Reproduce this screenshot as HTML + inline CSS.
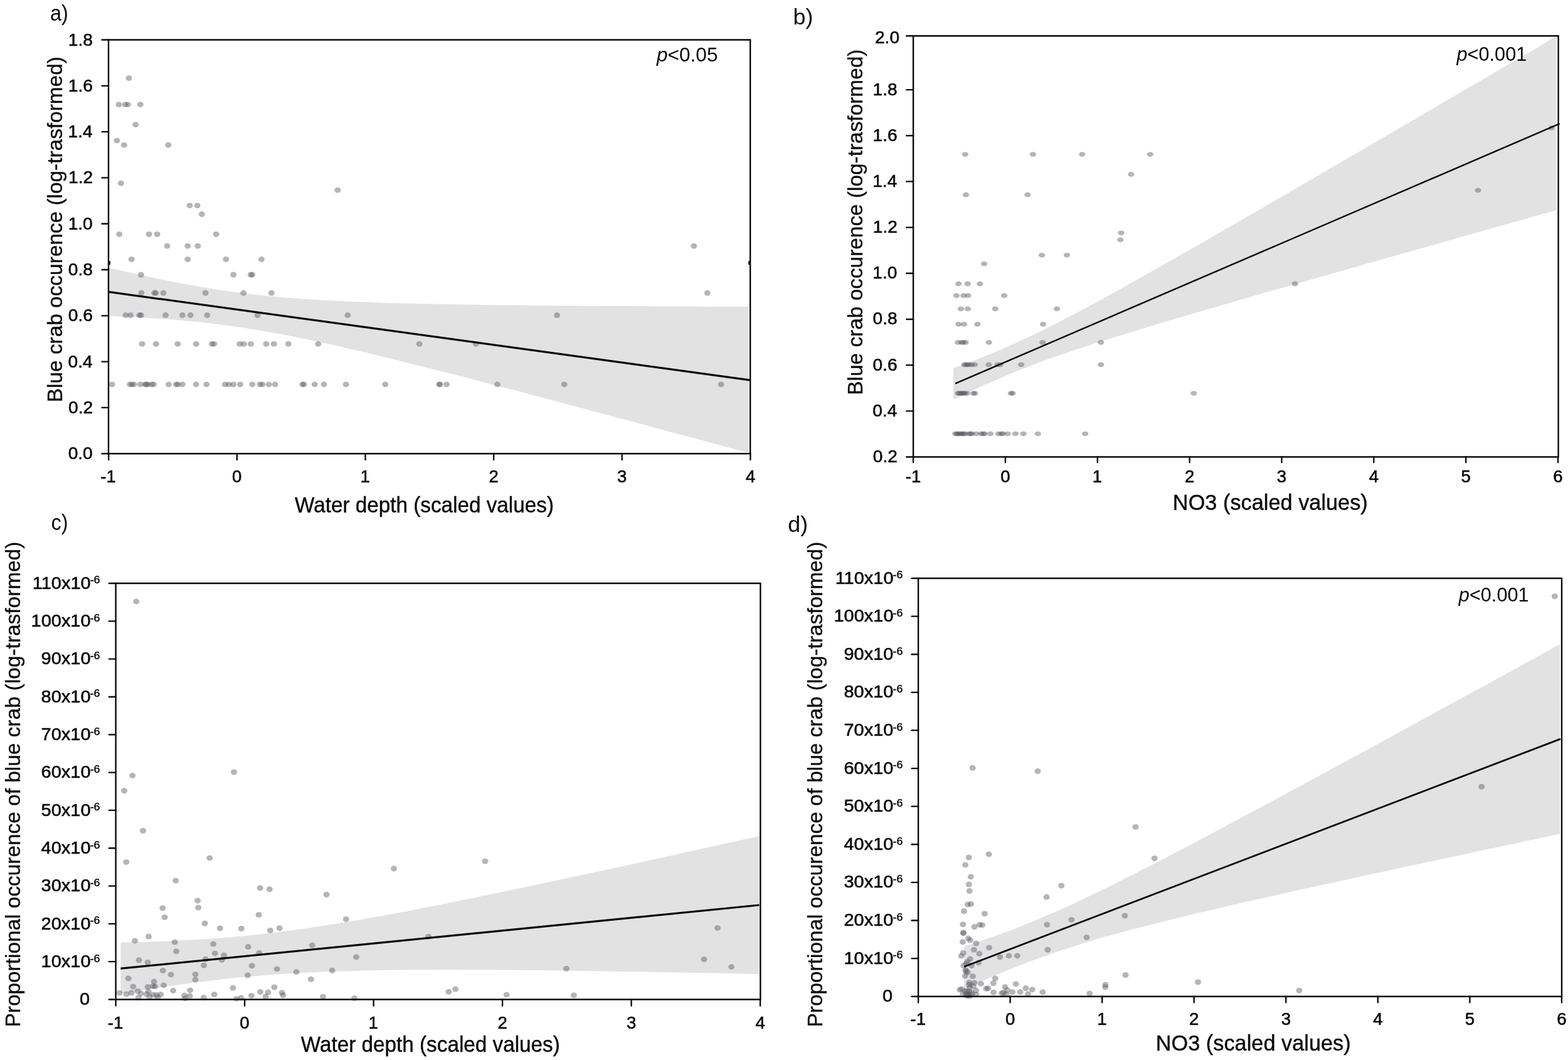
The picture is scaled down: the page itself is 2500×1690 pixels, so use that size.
<!DOCTYPE html>
<html lang="en"><head><meta charset="utf-8"><title>Blue crab occurrence vs water depth and NO3</title>
<style>html,body{margin:0;padding:0;background:#fff}body{width:2500px;height:1690px;overflow:hidden}svg{display:block}text{font-family:'Liberation Sans', sans-serif;fill:#0a0a0a}</style>
</head><body>
<svg width="2500" height="1690" viewBox="0 0 2500 1690" role="img" aria-label="Blue crab occurrence versus water depth and NO3">
<rect width="2500" height="1690" fill="#fff"/>
<g>
<path d="M173.4 426.81 C178.26 427.94 192.84 431.34 202.56 433.54 C212.28 435.74 222 437.91 231.72 440.01 C241.44 442.11 251.16 444.17 260.88 446.15 C270.6 448.13 280.32 450.06 290.04 451.9 C299.76 453.74 309.48 455.51 319.2 457.18 C328.92 458.85 338.64 460.44 348.36 461.92 C358.08 463.41 367.8 464.8 377.52 466.09 C387.24 467.38 396.96 468.57 406.68 469.68 C416.4 470.78 426.12 471.78 435.84 472.7 C445.56 473.62 455.28 474.45 465 475.22 C474.72 475.99 484.44 476.67 494.16 477.3 C503.88 477.94 513.6 478.5 523.32 479.03 C533.04 479.55 542.76 480.02 552.48 480.45 C562.2 480.89 571.92 481.28 581.64 481.64 C591.36 482.01 601.08 482.33 610.8 482.64 C620.52 482.95 630.24 483.22 639.96 483.49 C649.68 483.75 659.4 483.98 669.12 484.21 C678.84 484.43 688.56 484.63 698.28 484.83 C708 485.02 717.72 485.2 727.44 485.36 C737.16 485.53 746.88 485.68 756.6 485.83 C766.32 485.98 776.04 486.11 785.76 486.24 C795.48 486.37 805.2 486.49 814.92 486.61 C824.64 486.72 834.36 486.83 844.08 486.93 C853.8 487.03 863.52 487.13 873.24 487.22 C882.96 487.31 892.68 487.4 902.4 487.48 C912.12 487.57 921.84 487.64 931.56 487.72 C941.28 487.79 951 487.86 960.72 487.93 C970.44 488 980.16 488.06 989.88 488.12 C999.6 488.19 1009.32 488.25 1019.04 488.3 C1028.76 488.36 1038.48 488.41 1048.2 488.46 C1057.92 488.52 1067.64 488.57 1077.36 488.61 C1087.08 488.66 1096.8 488.71 1106.52 488.75 C1116.24 488.79 1125.96 488.84 1135.68 488.88 C1145.4 488.92 1155.12 488.96 1164.84 489 C1174.56 489.03 1189.14 489.09 1194 489.1 L1194 722.25 C1189.14 720.94 1174.56 716.99 1164.84 714.36 C1155.12 711.73 1145.4 709.11 1135.68 706.48 C1125.96 703.86 1116.24 701.23 1106.52 698.61 C1096.8 695.99 1087.08 693.37 1077.36 690.75 C1067.64 688.13 1057.92 685.51 1048.2 682.9 C1038.48 680.28 1028.76 677.67 1019.04 675.06 C1009.32 672.45 999.6 669.85 989.88 667.24 C980.16 664.64 970.44 662.03 960.72 659.44 C951 656.84 941.28 654.24 931.56 651.65 C921.84 649.06 912.12 646.47 902.4 643.89 C892.68 641.3 882.96 638.72 873.24 636.15 C863.52 633.57 853.8 631 844.08 628.44 C834.36 625.88 824.64 623.32 814.92 620.77 C805.2 618.21 795.48 615.67 785.76 613.13 C776.04 610.59 766.32 608.06 756.6 605.54 C746.88 603.02 737.16 600.51 727.44 598.01 C717.72 595.51 708 593.02 698.28 590.55 C688.56 588.07 678.84 585.61 669.12 583.17 C659.4 580.72 649.68 578.29 639.96 575.88 C630.24 573.48 620.52 571.08 610.8 568.72 C601.08 566.36 591.36 564.02 581.64 561.71 C571.92 559.41 562.2 557.13 552.48 554.89 C542.76 552.66 533.04 550.45 523.32 548.3 C513.6 546.15 503.88 544.04 494.16 542 C484.44 539.96 474.72 537.96 465 536.05 C455.28 534.14 445.56 532.29 435.84 530.53 C426.12 528.77 416.4 527.08 406.68 525.49 C396.96 523.91 387.24 522.41 377.52 521.01 C367.8 519.61 358.08 518.31 348.36 517.1 C338.64 515.89 328.92 514.78 319.2 513.76 C309.48 512.73 299.76 511.81 290.04 510.95 C280.32 510.09 270.6 509.32 260.88 508.61 C251.16 507.9 241.44 507.26 231.72 506.67 C222 506.08 212.28 505.55 202.56 505.06 C192.84 504.56 178.26 503.94 173.4 503.71 Z" fill="#e3e2e3"/>
<g fill="rgba(90,88,97,0.45)">
<ellipse cx="205.6" cy="124.53" rx="5" ry="4.45"/>
<ellipse cx="189.5" cy="166.66" rx="5" ry="4.45"/>
<ellipse cx="199.6" cy="166.66" rx="5" ry="4.45"/>
<ellipse cx="203.9" cy="166.66" rx="5" ry="4.45"/>
<ellipse cx="223.8" cy="166.66" rx="5" ry="4.45"/>
<ellipse cx="216.2" cy="198.61" rx="5" ry="4.45"/>
<ellipse cx="186.4" cy="224.13" rx="5" ry="4.45"/>
<ellipse cx="197.8" cy="231.2" rx="5" ry="4.45"/>
<ellipse cx="268.3" cy="231.2" rx="5" ry="4.45"/>
<ellipse cx="192.9" cy="292.16" rx="5" ry="4.45"/>
<ellipse cx="538.4" cy="303.14" rx="5" ry="4.45"/>
<ellipse cx="302.5" cy="327.68" rx="5" ry="4.45"/>
<ellipse cx="314.6" cy="327.68" rx="5" ry="4.45"/>
<ellipse cx="321.8" cy="341.53" rx="5" ry="4.45"/>
<ellipse cx="190.2" cy="373.47" rx="5" ry="4.45"/>
<ellipse cx="237.6" cy="373.47" rx="5" ry="4.45"/>
<ellipse cx="250.6" cy="373.47" rx="5" ry="4.45"/>
<ellipse cx="344.6" cy="373.47" rx="5" ry="4.45"/>
<ellipse cx="266.5" cy="392.22" rx="5" ry="4.45"/>
<ellipse cx="299.2" cy="392.22" rx="5" ry="4.45"/>
<ellipse cx="315.3" cy="392.22" rx="5" ry="4.45"/>
<ellipse cx="1106.3" cy="392.22" rx="5" ry="4.45"/>
<ellipse cx="209.7" cy="413.47" rx="5" ry="4.45"/>
<ellipse cx="299.2" cy="413.47" rx="5" ry="4.45"/>
<ellipse cx="360.3" cy="413.47" rx="5" ry="4.45"/>
<ellipse cx="416.9" cy="413.47" rx="5" ry="4.45"/>
<ellipse cx="224.9" cy="438.01" rx="5" ry="4.45"/>
<ellipse cx="372.1" cy="438.01" rx="5" ry="4.45"/>
<ellipse cx="399.9" cy="438.01" rx="5" ry="4.45"/>
<ellipse cx="402.1" cy="438.01" rx="5" ry="4.45"/>
<ellipse cx="225.3" cy="467.03" rx="5" ry="4.45"/>
<ellipse cx="246.1" cy="467.03" rx="5" ry="4.45"/>
<ellipse cx="248.4" cy="467.03" rx="5" ry="4.45"/>
<ellipse cx="260.5" cy="467.03" rx="5" ry="4.45"/>
<ellipse cx="327.6" cy="467.03" rx="5" ry="4.45"/>
<ellipse cx="388.2" cy="467.03" rx="5" ry="4.45"/>
<ellipse cx="432.8" cy="467.03" rx="5" ry="4.45"/>
<ellipse cx="1127.8" cy="467.03" rx="5" ry="4.45"/>
<ellipse cx="200.3" cy="502.55" rx="5" ry="4.45"/>
<ellipse cx="208.1" cy="502.55" rx="5" ry="4.45"/>
<ellipse cx="222.2" cy="502.55" rx="5" ry="4.45"/>
<ellipse cx="224.9" cy="502.55" rx="5" ry="4.45"/>
<ellipse cx="264" cy="502.55" rx="5" ry="4.45"/>
<ellipse cx="290.9" cy="502.55" rx="5" ry="4.45"/>
<ellipse cx="303.7" cy="502.55" rx="5" ry="4.45"/>
<ellipse cx="330.3" cy="502.55" rx="5" ry="4.45"/>
<ellipse cx="410.6" cy="502.55" rx="5" ry="4.45"/>
<ellipse cx="554.3" cy="502.55" rx="5" ry="4.45"/>
<ellipse cx="888.1" cy="502.55" rx="5" ry="4.45"/>
<ellipse cx="226.5" cy="548.34" rx="5" ry="4.45"/>
<ellipse cx="248.8" cy="548.34" rx="5" ry="4.45"/>
<ellipse cx="283.3" cy="548.34" rx="5" ry="4.45"/>
<ellipse cx="312.8" cy="548.34" rx="5" ry="4.45"/>
<ellipse cx="337.9" cy="548.34" rx="5" ry="4.45"/>
<ellipse cx="341.3" cy="548.34" rx="5" ry="4.45"/>
<ellipse cx="382.2" cy="548.34" rx="5" ry="4.45"/>
<ellipse cx="388.9" cy="548.34" rx="5" ry="4.45"/>
<ellipse cx="399.9" cy="548.34" rx="5" ry="4.45"/>
<ellipse cx="424.5" cy="548.34" rx="5" ry="4.45"/>
<ellipse cx="436.8" cy="548.34" rx="5" ry="4.45"/>
<ellipse cx="459.6" cy="548.34" rx="5" ry="4.45"/>
<ellipse cx="507.3" cy="548.34" rx="5" ry="4.45"/>
<ellipse cx="668.6" cy="548.34" rx="5" ry="4.45"/>
<ellipse cx="758.8" cy="548.34" rx="5" ry="4.45"/>
<ellipse cx="178.6" cy="612.87" rx="5" ry="4.45"/>
<ellipse cx="207" cy="612.87" rx="5" ry="4.45"/>
<ellipse cx="210.3" cy="612.87" rx="5" ry="4.45"/>
<ellipse cx="213.7" cy="612.87" rx="5" ry="4.45"/>
<ellipse cx="223.8" cy="612.87" rx="5" ry="4.45"/>
<ellipse cx="231.2" cy="612.87" rx="5" ry="4.45"/>
<ellipse cx="233.4" cy="612.87" rx="5" ry="4.45"/>
<ellipse cx="235.6" cy="612.87" rx="5" ry="4.45"/>
<ellipse cx="241.7" cy="612.87" rx="5" ry="4.45"/>
<ellipse cx="245" cy="612.87" rx="5" ry="4.45"/>
<ellipse cx="269" cy="612.87" rx="5" ry="4.45"/>
<ellipse cx="280.8" cy="612.87" rx="5" ry="4.45"/>
<ellipse cx="283.5" cy="612.87" rx="5" ry="4.45"/>
<ellipse cx="290.9" cy="612.87" rx="5" ry="4.45"/>
<ellipse cx="312.6" cy="612.87" rx="5" ry="4.45"/>
<ellipse cx="329.2" cy="612.87" rx="5" ry="4.45"/>
<ellipse cx="358.7" cy="612.87" rx="5" ry="4.45"/>
<ellipse cx="364.7" cy="612.87" rx="5" ry="4.45"/>
<ellipse cx="372.1" cy="612.87" rx="5" ry="4.45"/>
<ellipse cx="382.9" cy="612.87" rx="5" ry="4.45"/>
<ellipse cx="402.3" cy="612.87" rx="5" ry="4.45"/>
<ellipse cx="414.4" cy="612.87" rx="5" ry="4.45"/>
<ellipse cx="418.4" cy="612.87" rx="5" ry="4.45"/>
<ellipse cx="428.7" cy="612.87" rx="5" ry="4.45"/>
<ellipse cx="438.6" cy="612.87" rx="5" ry="4.45"/>
<ellipse cx="482.2" cy="612.87" rx="5" ry="4.45"/>
<ellipse cx="484.5" cy="612.87" rx="5" ry="4.45"/>
<ellipse cx="501.7" cy="612.87" rx="5" ry="4.45"/>
<ellipse cx="516.5" cy="612.87" rx="5" ry="4.45"/>
<ellipse cx="551.6" cy="612.87" rx="5" ry="4.45"/>
<ellipse cx="614.2" cy="612.87" rx="5" ry="4.45"/>
<ellipse cx="700.4" cy="612.87" rx="5" ry="4.45"/>
<ellipse cx="701.6" cy="612.87" rx="5" ry="4.45"/>
<ellipse cx="712" cy="612.87" rx="5" ry="4.45"/>
<ellipse cx="793" cy="612.87" rx="5" ry="4.45"/>
<ellipse cx="899.7" cy="612.87" rx="5" ry="4.45"/>
<ellipse cx="1149.7" cy="612.87" rx="5" ry="4.45"/>
</g>
<line x1="173.4" y1="465.4" x2="1196.4" y2="606.1" stroke="#0a0a0a" stroke-width="3.2" stroke-linecap="butt"/>
<path d="M173 63.5 H1196.2 V723.2 H173 Z" fill="none" stroke="#0a0a0a" stroke-width="2.4" stroke-linejoin="miter"/>
<line x1="162.5" y1="723.2" x2="173" y2="723.2" stroke="#0a0a0a" stroke-width="2.35" stroke-linecap="round"/>
<text transform="translate(108.64 732.22) scale(1.02 1)" font-size="27.6" stroke="#0a0a0a" stroke-width="0.6" stroke-linejoin="round">0.0</text>
<line x1="162.5" y1="649.9" x2="173" y2="649.9" stroke="#0a0a0a" stroke-width="2.35" stroke-linecap="round"/>
<text transform="translate(109.07 658.92) scale(1.02 1)" font-size="27.6" stroke="#0a0a0a" stroke-width="0.6" stroke-linejoin="round">0.2</text>
<line x1="162.5" y1="576.6" x2="173" y2="576.6" stroke="#0a0a0a" stroke-width="2.35" stroke-linecap="round"/>
<text transform="translate(108.5 585.62) scale(1.02 1)" font-size="27.6" stroke="#0a0a0a" stroke-width="0.6" stroke-linejoin="round">0.4</text>
<line x1="162.5" y1="503.3" x2="173" y2="503.3" stroke="#0a0a0a" stroke-width="2.35" stroke-linecap="round"/>
<text transform="translate(108.78 512.32) scale(1.02 1)" font-size="27.6" stroke="#0a0a0a" stroke-width="0.6" stroke-linejoin="round">0.6</text>
<line x1="162.5" y1="430" x2="173" y2="430" stroke="#0a0a0a" stroke-width="2.35" stroke-linecap="round"/>
<text transform="translate(108.78 439.02) scale(1.02 1)" font-size="27.6" stroke="#0a0a0a" stroke-width="0.6" stroke-linejoin="round">0.8</text>
<line x1="162.5" y1="356.7" x2="173" y2="356.7" stroke="#0a0a0a" stroke-width="2.35" stroke-linecap="round"/>
<text transform="translate(108.64 365.72) scale(1.02 1)" font-size="27.6" stroke="#0a0a0a" stroke-width="0.6" stroke-linejoin="round">1.0</text>
<line x1="162.5" y1="283.4" x2="173" y2="283.4" stroke="#0a0a0a" stroke-width="2.35" stroke-linecap="round"/>
<text transform="translate(109.07 292.42) scale(1.02 1)" font-size="27.6" stroke="#0a0a0a" stroke-width="0.6" stroke-linejoin="round">1.2</text>
<line x1="162.5" y1="210.1" x2="173" y2="210.1" stroke="#0a0a0a" stroke-width="2.35" stroke-linecap="round"/>
<text transform="translate(108.5 219.12) scale(1.02 1)" font-size="27.6" stroke="#0a0a0a" stroke-width="0.6" stroke-linejoin="round">1.4</text>
<line x1="162.5" y1="136.8" x2="173" y2="136.8" stroke="#0a0a0a" stroke-width="2.35" stroke-linecap="round"/>
<text transform="translate(108.78 145.82) scale(1.02 1)" font-size="27.6" stroke="#0a0a0a" stroke-width="0.6" stroke-linejoin="round">1.6</text>
<line x1="162.5" y1="63.5" x2="173" y2="63.5" stroke="#0a0a0a" stroke-width="2.35" stroke-linecap="round"/>
<text transform="translate(108.78 72.52) scale(1.02 1)" font-size="27.6" stroke="#0a0a0a" stroke-width="0.6" stroke-linejoin="round">1.8</text>
<line x1="173.2" y1="723.2" x2="173.2" y2="733" stroke="#0a0a0a" stroke-width="2.35" stroke-linecap="round"/>
<text transform="translate(160.32 768.6) scale(1 1)" font-size="27.6" stroke="#0a0a0a" stroke-width="0.6" stroke-linejoin="round">-1</text>
<line x1="377.84" y1="723.2" x2="377.84" y2="733" stroke="#0a0a0a" stroke-width="2.35" stroke-linecap="round"/>
<text transform="translate(370.11 768.6) scale(1 1)" font-size="27.6" stroke="#0a0a0a" stroke-width="0.6" stroke-linejoin="round">0</text>
<line x1="582.48" y1="723.2" x2="582.48" y2="733" stroke="#0a0a0a" stroke-width="2.35" stroke-linecap="round"/>
<text transform="translate(574.41 768.6) scale(1 1)" font-size="27.6" stroke="#0a0a0a" stroke-width="0.6" stroke-linejoin="round">1</text>
<line x1="787.12" y1="723.2" x2="787.12" y2="733" stroke="#0a0a0a" stroke-width="2.35" stroke-linecap="round"/>
<text transform="translate(779.46 768.6) scale(1 1)" font-size="27.6" stroke="#0a0a0a" stroke-width="0.6" stroke-linejoin="round">2</text>
<line x1="991.76" y1="723.2" x2="991.76" y2="733" stroke="#0a0a0a" stroke-width="2.35" stroke-linecap="round"/>
<text transform="translate(984.1 768.6) scale(1 1)" font-size="27.6" stroke="#0a0a0a" stroke-width="0.6" stroke-linejoin="round">3</text>
<line x1="1196.4" y1="723.2" x2="1196.4" y2="733" stroke="#0a0a0a" stroke-width="2.35" stroke-linecap="round"/>
<text transform="translate(1188.88 768.6) scale(1 1)" font-size="27.6" stroke="#0a0a0a" stroke-width="0.6" stroke-linejoin="round">4</text>
<text transform="translate(470.03 817) scale(0.94 1)" font-size="35.4" stroke="#0a0a0a" stroke-width="0.45" stroke-linejoin="round">Water depth (scaled values)</text>
<text transform="translate(99.3 638.5) rotate(-90) scale(1 1.01) translate(-2.67 0)" font-size="33.4" stroke="#0a0a0a" stroke-width="0.35" stroke-linejoin="round">Blue crab occurence (log-trasformed)</text>
<text transform="translate(1046.94 97.6) scale(1.03 1)" font-size="30.7"><tspan font-style="italic">p</tspan>&lt;0.05</text>
<text transform="translate(80 32.7) scale(0.94 1)" font-size="34.5">a)</text>
<rect x="173" y="416.1" width="2.9" height="6.2" rx="1.2" fill="#0a0a0a"/>
<rect x="1193.2" y="416.1" width="2.9" height="6.2" rx="1.2" fill="#0a0a0a"/>
</g>
<g>
<path d="M1520.1 586.79 C1524.68 585.11 1538.42 580.18 1547.57 576.71 C1556.73 573.24 1565.89 569.66 1575.05 565.94 C1584.21 562.22 1593.36 558.38 1602.52 554.39 C1611.68 550.4 1620.84 546.27 1630 542.03 C1639.16 537.78 1648.31 533.39 1657.47 528.9 C1666.63 524.42 1675.79 519.81 1684.95 515.14 C1694.1 510.46 1703.26 505.68 1712.42 500.85 C1721.58 496.02 1730.74 491.11 1739.89 486.17 C1749.05 481.22 1758.21 476.21 1767.37 471.18 C1776.53 466.15 1785.68 461.07 1794.84 455.97 C1804 450.87 1813.16 445.73 1822.32 440.58 C1831.48 435.43 1840.63 430.25 1849.79 425.07 C1858.95 419.88 1868.11 414.66 1877.27 409.44 C1886.42 404.22 1895.58 398.99 1904.74 393.74 C1913.9 388.5 1923.06 383.24 1932.21 377.98 C1941.37 372.71 1950.53 367.44 1959.69 362.16 C1968.85 356.88 1978 351.59 1987.16 346.3 C1996.32 341 2005.48 335.7 2014.64 330.4 C2023.8 325.1 2032.95 319.79 2042.11 314.47 C2051.27 309.16 2060.43 303.84 2069.59 298.52 C2078.74 293.2 2087.9 287.88 2097.06 282.55 C2106.22 277.22 2115.38 271.89 2124.53 266.56 C2133.69 261.23 2142.85 255.89 2152.01 250.56 C2161.17 245.22 2170.32 239.88 2179.48 234.54 C2188.64 229.2 2197.8 223.85 2206.96 218.51 C2216.12 213.16 2225.27 207.81 2234.43 202.47 C2243.59 197.12 2252.75 191.77 2261.91 186.42 C2271.06 181.06 2280.22 175.71 2289.38 170.36 C2298.54 165 2307.7 159.65 2316.85 154.29 C2326.01 148.94 2335.17 143.58 2344.33 138.22 C2353.49 132.86 2362.64 127.5 2371.8 122.15 C2380.96 116.79 2390.12 111.42 2399.28 106.06 C2408.44 100.7 2417.59 95.34 2426.75 89.98 C2435.91 84.61 2445.07 79.25 2454.23 73.88 C2463.38 68.52 2477.12 60.47 2481.7 57.79 L2481.7 335.08 C2477.12 336.37 2463.38 340.23 2454.23 342.81 C2445.07 345.38 2435.91 347.96 2426.75 350.54 C2417.59 353.11 2408.44 355.69 2399.28 358.27 C2390.12 360.85 2380.96 363.43 2371.8 366.01 C2362.64 368.59 2353.49 371.17 2344.33 373.75 C2335.17 376.33 2326.01 378.91 2316.85 381.49 C2307.7 384.08 2298.54 386.66 2289.38 389.25 C2280.22 391.83 2271.06 394.42 2261.91 397.01 C2252.75 399.6 2243.59 402.18 2234.43 404.77 C2225.27 407.37 2216.12 409.96 2206.96 412.55 C2197.8 415.14 2188.64 417.74 2179.48 420.34 C2170.32 422.93 2161.17 425.53 2152.01 428.13 C2142.85 430.73 2133.69 433.34 2124.53 435.94 C2115.38 438.55 2106.22 441.16 2097.06 443.77 C2087.9 446.38 2078.74 448.99 2069.59 451.61 C2060.43 454.22 2051.27 456.84 2042.11 459.47 C2032.95 462.09 2023.8 464.72 2014.64 467.35 C2005.48 469.98 1996.32 472.62 1987.16 475.26 C1978 477.9 1968.85 480.55 1959.69 483.21 C1950.53 485.86 1941.37 488.52 1932.21 491.19 C1923.06 493.86 1913.9 496.53 1904.74 499.22 C1895.58 501.91 1886.42 504.6 1877.27 507.31 C1868.11 510.02 1858.95 512.74 1849.79 515.48 C1840.63 518.22 1831.48 520.97 1822.32 523.74 C1813.16 526.52 1804 529.31 1794.84 532.13 C1785.68 534.95 1776.53 537.79 1767.37 540.67 C1758.21 543.56 1749.05 546.46 1739.89 549.43 C1730.74 552.39 1721.58 555.39 1712.42 558.46 C1703.26 561.53 1694.1 564.65 1684.95 567.86 C1675.79 571.07 1666.63 574.34 1657.47 577.74 C1648.31 581.13 1639.16 584.6 1630 588.22 C1620.84 591.83 1611.68 595.55 1602.52 599.41 C1593.36 603.26 1584.21 607.25 1575.05 611.37 C1565.89 615.48 1556.73 619.73 1547.57 624.08 C1538.42 628.43 1524.68 635.24 1520.1 637.47 Z" fill="#e3e2e3"/>
<g fill="rgba(90,88,97,0.45)">
<ellipse cx="2473.7" cy="203.99" rx="5.1" ry="3.9"/>
<ellipse cx="1538.9" cy="246.06" rx="5.1" ry="3.9"/>
<ellipse cx="1646.8" cy="246.06" rx="5.1" ry="3.9"/>
<ellipse cx="1725.3" cy="246.06" rx="5.1" ry="3.9"/>
<ellipse cx="1833.8" cy="246.06" rx="5.1" ry="3.9"/>
<ellipse cx="1803.4" cy="277.94" rx="5.1" ry="3.9"/>
<ellipse cx="2356.5" cy="303.42" rx="5.1" ry="3.9"/>
<ellipse cx="1540" cy="310.49" rx="5.1" ry="3.9"/>
<ellipse cx="1638.3" cy="310.49" rx="5.1" ry="3.9"/>
<ellipse cx="1787.5" cy="371.35" rx="5.1" ry="3.9"/>
<ellipse cx="1786.3" cy="382.31" rx="5.1" ry="3.9"/>
<ellipse cx="1661.1" cy="406.81" rx="5.1" ry="3.9"/>
<ellipse cx="1701.1" cy="406.81" rx="5.1" ry="3.9"/>
<ellipse cx="1569.1" cy="420.63" rx="5.1" ry="3.9"/>
<ellipse cx="1528.2" cy="452.52" rx="5.1" ry="3.9"/>
<ellipse cx="1542.7" cy="452.52" rx="5.1" ry="3.9"/>
<ellipse cx="1562.4" cy="452.52" rx="5.1" ry="3.9"/>
<ellipse cx="2064.7" cy="452.52" rx="5.1" ry="3.9"/>
<ellipse cx="1525" cy="471.24" rx="5.1" ry="3.9"/>
<ellipse cx="1536.2" cy="471.24" rx="5.1" ry="3.9"/>
<ellipse cx="1543.4" cy="471.24" rx="5.1" ry="3.9"/>
<ellipse cx="1601.1" cy="471.24" rx="5.1" ry="3.9"/>
<ellipse cx="1532" cy="492.46" rx="5.1" ry="3.9"/>
<ellipse cx="1542.9" cy="492.46" rx="5.1" ry="3.9"/>
<ellipse cx="1586.8" cy="492.46" rx="5.1" ry="3.9"/>
<ellipse cx="1685" cy="492.46" rx="5.1" ry="3.9"/>
<ellipse cx="1528.4" cy="516.95" rx="5.1" ry="3.9"/>
<ellipse cx="1537.1" cy="516.95" rx="5.1" ry="3.9"/>
<ellipse cx="1558.4" cy="516.95" rx="5.1" ry="3.9"/>
<ellipse cx="1663.1" cy="516.95" rx="5.1" ry="3.9"/>
<ellipse cx="1527.3" cy="545.93" rx="5.1" ry="3.9"/>
<ellipse cx="1532.9" cy="545.93" rx="5.1" ry="3.9"/>
<ellipse cx="1535.8" cy="545.93" rx="5.1" ry="3.9"/>
<ellipse cx="1539.6" cy="545.93" rx="5.1" ry="3.9"/>
<ellipse cx="1576.7" cy="545.93" rx="5.1" ry="3.9"/>
<ellipse cx="1662.2" cy="545.93" rx="5.1" ry="3.9"/>
<ellipse cx="1755.3" cy="545.93" rx="5.1" ry="3.9"/>
<ellipse cx="1537.5" cy="581.39" rx="5.1" ry="3.9"/>
<ellipse cx="1540" cy="581.39" rx="5.1" ry="3.9"/>
<ellipse cx="1542.5" cy="581.39" rx="5.1" ry="3.9"/>
<ellipse cx="1545" cy="581.39" rx="5.1" ry="3.9"/>
<ellipse cx="1549" cy="581.39" rx="5.1" ry="3.9"/>
<ellipse cx="1554.1" cy="581.39" rx="5.1" ry="3.9"/>
<ellipse cx="1576.5" cy="581.39" rx="5.1" ry="3.9"/>
<ellipse cx="1590.4" cy="581.39" rx="5.1" ry="3.9"/>
<ellipse cx="1594.8" cy="581.39" rx="5.1" ry="3.9"/>
<ellipse cx="1628.2" cy="581.39" rx="5.1" ry="3.9"/>
<ellipse cx="1755.3" cy="581.39" rx="5.1" ry="3.9"/>
<ellipse cx="1527.3" cy="627.1" rx="5.1" ry="3.9"/>
<ellipse cx="1529.5" cy="627.1" rx="5.1" ry="3.9"/>
<ellipse cx="1531.8" cy="627.1" rx="5.1" ry="3.9"/>
<ellipse cx="1534" cy="627.1" rx="5.1" ry="3.9"/>
<ellipse cx="1536.2" cy="627.1" rx="5.1" ry="3.9"/>
<ellipse cx="1538.5" cy="627.1" rx="5.1" ry="3.9"/>
<ellipse cx="1541.8" cy="627.1" rx="5.1" ry="3.9"/>
<ellipse cx="1551.9" cy="627.1" rx="5.1" ry="3.9"/>
<ellipse cx="1554.6" cy="627.1" rx="5.1" ry="3.9"/>
<ellipse cx="1611.9" cy="627.1" rx="5.1" ry="3.9"/>
<ellipse cx="1614.5" cy="627.1" rx="5.1" ry="3.9"/>
<ellipse cx="1903.2" cy="627.1" rx="5.1" ry="3.9"/>
<ellipse cx="1523.2" cy="691.53" rx="5.1" ry="3.9"/>
<ellipse cx="1525.5" cy="691.53" rx="5.1" ry="3.9"/>
<ellipse cx="1527.7" cy="691.53" rx="5.1" ry="3.9"/>
<ellipse cx="1530" cy="691.53" rx="5.1" ry="3.9"/>
<ellipse cx="1532.2" cy="691.53" rx="5.1" ry="3.9"/>
<ellipse cx="1534.4" cy="691.53" rx="5.1" ry="3.9"/>
<ellipse cx="1536.7" cy="691.53" rx="5.1" ry="3.9"/>
<ellipse cx="1538.9" cy="691.53" rx="5.1" ry="3.9"/>
<ellipse cx="1545.2" cy="691.53" rx="5.1" ry="3.9"/>
<ellipse cx="1547.4" cy="691.53" rx="5.1" ry="3.9"/>
<ellipse cx="1549.6" cy="691.53" rx="5.1" ry="3.9"/>
<ellipse cx="1556.4" cy="691.53" rx="5.1" ry="3.9"/>
<ellipse cx="1564.2" cy="691.53" rx="5.1" ry="3.9"/>
<ellipse cx="1567.5" cy="691.53" rx="5.1" ry="3.9"/>
<ellipse cx="1569.8" cy="691.53" rx="5.1" ry="3.9"/>
<ellipse cx="1579.2" cy="691.53" rx="5.1" ry="3.9"/>
<ellipse cx="1591.7" cy="691.53" rx="5.1" ry="3.9"/>
<ellipse cx="1596.6" cy="691.53" rx="5.1" ry="3.9"/>
<ellipse cx="1598.9" cy="691.53" rx="5.1" ry="3.9"/>
<ellipse cx="1606.7" cy="691.53" rx="5.1" ry="3.9"/>
<ellipse cx="1619" cy="691.53" rx="5.1" ry="3.9"/>
<ellipse cx="1631.8" cy="691.53" rx="5.1" ry="3.9"/>
<ellipse cx="1654.8" cy="691.53" rx="5.1" ry="3.9"/>
<ellipse cx="1730.2" cy="691.53" rx="5.1" ry="3.9"/>
</g>
<line x1="1523.2" y1="611.5" x2="2486.8" y2="197.2" stroke="#0a0a0a" stroke-width="2.5" stroke-linecap="butt"/>
<path d="M1456.1 57.2 H2484.6 V728.5 H1456.1 Z" fill="none" stroke="#0a0a0a" stroke-width="2.4" stroke-linejoin="miter"/>
<line x1="1445.3" y1="728.5" x2="1456.1" y2="728.5" stroke="#0a0a0a" stroke-width="2.35" stroke-linecap="round"/>
<text transform="translate(1391.77 737.02) scale(1.02 1)" font-size="27.6" stroke="#0a0a0a" stroke-width="0.6" stroke-linejoin="round">0.2</text>
<line x1="1445.3" y1="655.32" x2="1456.1" y2="655.32" stroke="#0a0a0a" stroke-width="2.35" stroke-linecap="round"/>
<text transform="translate(1391.2 663.84) scale(1.02 1)" font-size="27.6" stroke="#0a0a0a" stroke-width="0.6" stroke-linejoin="round">0.4</text>
<line x1="1445.3" y1="582.14" x2="1456.1" y2="582.14" stroke="#0a0a0a" stroke-width="2.35" stroke-linecap="round"/>
<text transform="translate(1391.48 590.66) scale(1.02 1)" font-size="27.6" stroke="#0a0a0a" stroke-width="0.6" stroke-linejoin="round">0.6</text>
<line x1="1445.3" y1="508.96" x2="1456.1" y2="508.96" stroke="#0a0a0a" stroke-width="2.35" stroke-linecap="round"/>
<text transform="translate(1391.48 517.48) scale(1.02 1)" font-size="27.6" stroke="#0a0a0a" stroke-width="0.6" stroke-linejoin="round">0.8</text>
<line x1="1445.3" y1="435.78" x2="1456.1" y2="435.78" stroke="#0a0a0a" stroke-width="2.35" stroke-linecap="round"/>
<text transform="translate(1391.34 444.3) scale(1.02 1)" font-size="27.6" stroke="#0a0a0a" stroke-width="0.6" stroke-linejoin="round">1.0</text>
<line x1="1445.3" y1="362.6" x2="1456.1" y2="362.6" stroke="#0a0a0a" stroke-width="2.35" stroke-linecap="round"/>
<text transform="translate(1391.77 371.12) scale(1.02 1)" font-size="27.6" stroke="#0a0a0a" stroke-width="0.6" stroke-linejoin="round">1.2</text>
<line x1="1445.3" y1="289.42" x2="1456.1" y2="289.42" stroke="#0a0a0a" stroke-width="2.35" stroke-linecap="round"/>
<text transform="translate(1391.2 297.94) scale(1.02 1)" font-size="27.6" stroke="#0a0a0a" stroke-width="0.6" stroke-linejoin="round">1.4</text>
<line x1="1445.3" y1="216.24" x2="1456.1" y2="216.24" stroke="#0a0a0a" stroke-width="2.35" stroke-linecap="round"/>
<text transform="translate(1391.48 224.76) scale(1.02 1)" font-size="27.6" stroke="#0a0a0a" stroke-width="0.6" stroke-linejoin="round">1.6</text>
<line x1="1445.3" y1="143.06" x2="1456.1" y2="143.06" stroke="#0a0a0a" stroke-width="2.35" stroke-linecap="round"/>
<text transform="translate(1391.48 151.58) scale(1.02 1)" font-size="27.6" stroke="#0a0a0a" stroke-width="0.6" stroke-linejoin="round">1.8</text>
<line x1="1445.3" y1="57.2" x2="1456.1" y2="57.2" stroke="#0a0a0a" stroke-width="2.35" stroke-linecap="round"/>
<text transform="translate(1394.94 69.02) scale(1.02 1)" font-size="27.6" stroke="#0a0a0a" stroke-width="0.6" stroke-linejoin="round">2.0</text>
<line x1="1456.1" y1="728.5" x2="1456.1" y2="737.3" stroke="#0a0a0a" stroke-width="2.35" stroke-linecap="round"/>
<text transform="translate(1443.82 768.9) scale(1 1)" font-size="27.6" stroke="#0a0a0a" stroke-width="0.6" stroke-linejoin="round">-1</text>
<line x1="1602.95" y1="728.5" x2="1602.95" y2="737.3" stroke="#0a0a0a" stroke-width="2.35" stroke-linecap="round"/>
<text transform="translate(1595.22 768.9) scale(1 1)" font-size="27.6" stroke="#0a0a0a" stroke-width="0.6" stroke-linejoin="round">0</text>
<line x1="1749.8" y1="728.5" x2="1749.8" y2="737.3" stroke="#0a0a0a" stroke-width="2.35" stroke-linecap="round"/>
<text transform="translate(1741.73 768.9) scale(1 1)" font-size="27.6" stroke="#0a0a0a" stroke-width="0.6" stroke-linejoin="round">1</text>
<line x1="1896.65" y1="728.5" x2="1896.65" y2="737.3" stroke="#0a0a0a" stroke-width="2.35" stroke-linecap="round"/>
<text transform="translate(1888.99 768.9) scale(1 1)" font-size="27.6" stroke="#0a0a0a" stroke-width="0.6" stroke-linejoin="round">2</text>
<line x1="2043.5" y1="728.5" x2="2043.5" y2="737.3" stroke="#0a0a0a" stroke-width="2.35" stroke-linecap="round"/>
<text transform="translate(2035.84 768.9) scale(1 1)" font-size="27.6" stroke="#0a0a0a" stroke-width="0.6" stroke-linejoin="round">3</text>
<line x1="2190.35" y1="728.5" x2="2190.35" y2="737.3" stroke="#0a0a0a" stroke-width="2.35" stroke-linecap="round"/>
<text transform="translate(2182.83 768.9) scale(1 1)" font-size="27.6" stroke="#0a0a0a" stroke-width="0.6" stroke-linejoin="round">4</text>
<line x1="2337.2" y1="728.5" x2="2337.2" y2="737.3" stroke="#0a0a0a" stroke-width="2.35" stroke-linecap="round"/>
<text transform="translate(2329.54 768.9) scale(1 1)" font-size="27.6" stroke="#0a0a0a" stroke-width="0.6" stroke-linejoin="round">5</text>
<line x1="2484.05" y1="728.5" x2="2484.05" y2="737.3" stroke="#0a0a0a" stroke-width="2.35" stroke-linecap="round"/>
<text transform="translate(2476.25 768.9) scale(1 1)" font-size="27.6" stroke="#0a0a0a" stroke-width="0.6" stroke-linejoin="round">6</text>
<text transform="translate(1869.84 812.6) scale(0.97 1)" font-size="35.4" stroke="#0a0a0a" stroke-width="0.45" stroke-linejoin="round">NO3 (scaled values)</text>
<text transform="translate(1375.4 627) rotate(-90) scale(1 1.02) translate(-2.67 0)" font-size="33.4" stroke="#0a0a0a" stroke-width="0.35" stroke-linejoin="round">Blue crab occurence (log-trasformed)</text>
<text transform="translate(2322.5 96.6) scale(1 1)" font-size="30.7"><tspan font-style="italic">p</tspan>&lt;0.001</text>
<text transform="translate(1264.47 39.4) scale(1.04 1)" font-size="34.5">b)</text>
</g>
<g>
<path d="M192.4 1502.65 C197.25 1502.54 211.79 1502.25 221.49 1501.98 C231.18 1501.72 240.88 1501.42 250.58 1501.07 C260.27 1500.72 269.97 1500.33 279.67 1499.88 C289.36 1499.43 299.06 1498.93 308.75 1498.36 C318.45 1497.79 328.15 1497.17 337.84 1496.47 C347.54 1495.78 357.24 1495.02 366.93 1494.18 C376.63 1493.35 386.32 1492.45 396.02 1491.47 C405.72 1490.5 415.41 1489.45 425.11 1488.33 C434.8 1487.22 444.5 1486.02 454.2 1484.77 C463.89 1483.52 473.59 1482.19 483.29 1480.82 C492.98 1479.44 502.68 1477.99 512.37 1476.5 C522.07 1475.01 531.77 1473.45 541.46 1471.86 C551.16 1470.27 560.86 1468.62 570.55 1466.95 C580.25 1465.27 589.94 1463.55 599.64 1461.79 C609.34 1460.04 619.03 1458.25 628.73 1456.44 C638.42 1454.63 648.12 1452.78 657.82 1450.92 C667.51 1449.05 677.21 1447.16 686.91 1445.25 C696.6 1443.34 706.3 1441.41 715.99 1439.47 C725.69 1437.52 735.39 1435.56 745.08 1433.58 C754.78 1431.6 764.48 1429.61 774.17 1427.61 C783.87 1425.61 793.56 1423.59 803.26 1421.56 C812.96 1419.54 822.65 1417.5 832.35 1415.45 C842.04 1413.41 851.74 1411.35 861.44 1409.29 C871.13 1407.23 880.83 1405.16 890.53 1403.08 C900.22 1401.01 909.92 1398.92 919.61 1396.84 C929.31 1394.75 939.01 1392.65 948.7 1390.55 C958.4 1388.45 968.1 1386.35 977.79 1384.24 C987.49 1382.13 997.18 1380.01 1006.88 1377.9 C1016.58 1375.78 1026.27 1373.66 1035.97 1371.53 C1045.66 1369.41 1055.36 1367.28 1065.06 1365.15 C1074.75 1363.01 1084.45 1360.88 1094.15 1358.74 C1103.84 1356.6 1113.54 1354.46 1123.23 1352.32 C1132.93 1350.18 1142.63 1348.03 1152.32 1345.88 C1162.02 1343.74 1171.72 1341.59 1181.41 1339.43 C1191.11 1337.28 1205.65 1334.05 1210.5 1332.97 L1210.5 1553.03 C1205.65 1552.93 1191.11 1552.63 1181.41 1552.43 C1171.72 1552.24 1162.02 1552.04 1152.32 1551.85 C1142.63 1551.66 1132.93 1551.47 1123.23 1551.28 C1113.54 1551.09 1103.84 1550.9 1094.15 1550.72 C1084.45 1550.54 1074.75 1550.36 1065.06 1550.18 C1055.36 1550 1045.66 1549.83 1035.97 1549.66 C1026.27 1549.49 1016.58 1549.32 1006.88 1549.16 C997.18 1549 987.49 1548.84 977.79 1548.68 C968.1 1548.53 958.4 1548.37 948.7 1548.23 C939.01 1548.08 929.31 1547.94 919.61 1547.81 C909.92 1547.67 900.22 1547.54 890.53 1547.42 C880.83 1547.29 871.13 1547.17 861.44 1547.07 C851.74 1546.96 842.04 1546.85 832.35 1546.76 C822.65 1546.66 812.96 1546.58 803.26 1546.5 C793.56 1546.43 783.87 1546.36 774.17 1546.3 C764.48 1546.25 754.78 1546.2 745.08 1546.17 C735.39 1546.14 725.69 1546.13 715.99 1546.12 C706.3 1546.12 696.6 1546.14 686.91 1546.17 C677.21 1546.2 667.51 1546.25 657.82 1546.32 C648.12 1546.39 638.42 1546.48 628.73 1546.6 C619.03 1546.72 609.34 1546.86 599.64 1547.04 C589.94 1547.21 580.25 1547.41 570.55 1547.65 C560.86 1547.9 551.16 1548.17 541.46 1548.48 C531.77 1548.8 522.07 1549.15 512.37 1549.56 C502.68 1549.96 492.98 1550.41 483.29 1550.92 C473.59 1551.43 463.89 1551.98 454.2 1552.6 C444.5 1553.22 434.8 1553.9 425.11 1554.64 C415.41 1555.39 405.72 1556.19 396.02 1557.07 C386.32 1557.95 376.63 1558.89 366.93 1559.9 C357.24 1560.91 347.54 1561.99 337.84 1563.13 C328.15 1564.28 318.45 1565.49 308.75 1566.76 C299.06 1568.03 289.36 1569.36 279.67 1570.75 C269.97 1572.14 260.27 1573.59 250.58 1575.08 C240.88 1576.57 231.18 1578.12 221.49 1579.7 C211.79 1581.29 197.25 1583.77 192.4 1584.58 Z" fill="#e3e2e3"/>
<g fill="rgba(90,88,97,0.45)">
<ellipse cx="217.2" cy="958.9" rx="5" ry="4.5"/>
<ellipse cx="211.2" cy="1236.6" rx="5" ry="4.5"/>
<ellipse cx="373" cy="1231" rx="5" ry="4.5"/>
<ellipse cx="198" cy="1260.7" rx="5" ry="4.5"/>
<ellipse cx="228" cy="1324.5" rx="5" ry="4.5"/>
<ellipse cx="201.3" cy="1374.4" rx="5" ry="4.5"/>
<ellipse cx="334.2" cy="1367.9" rx="5" ry="4.5"/>
<ellipse cx="628" cy="1384.7" rx="5" ry="4.5"/>
<ellipse cx="280.1" cy="1404" rx="5" ry="4.5"/>
<ellipse cx="414.8" cy="1415.8" rx="5" ry="4.5"/>
<ellipse cx="429.8" cy="1417.8" rx="5" ry="4.5"/>
<ellipse cx="520.6" cy="1426.3" rx="5" ry="4.5"/>
<ellipse cx="315" cy="1435.9" rx="5" ry="4.5"/>
<ellipse cx="316.1" cy="1447.1" rx="5" ry="4.5"/>
<ellipse cx="259.3" cy="1447.8" rx="5" ry="4.5"/>
<ellipse cx="262.6" cy="1462.4" rx="5" ry="4.5"/>
<ellipse cx="412.6" cy="1458.5" rx="5" ry="4.5"/>
<ellipse cx="551.7" cy="1465.5" rx="5" ry="4.5"/>
<ellipse cx="326.6" cy="1472.2" rx="5" ry="4.5"/>
<ellipse cx="350.8" cy="1480" rx="5" ry="4.5"/>
<ellipse cx="384.8" cy="1480.5" rx="5" ry="4.5"/>
<ellipse cx="445.7" cy="1479.8" rx="5" ry="4.5"/>
<ellipse cx="430.9" cy="1483.4" rx="5" ry="4.5"/>
<ellipse cx="236.9" cy="1493" rx="5" ry="4.5"/>
<ellipse cx="215.2" cy="1499.9" rx="5" ry="4.5"/>
<ellipse cx="278.7" cy="1502" rx="5" ry="4.5"/>
<ellipse cx="340.1" cy="1505.1" rx="5" ry="4.5"/>
<ellipse cx="683.1" cy="1493.2" rx="5" ry="4.5"/>
<ellipse cx="395.6" cy="1509.6" rx="5" ry="4.5"/>
<ellipse cx="497.8" cy="1507.1" rx="5" ry="4.5"/>
<ellipse cx="281" cy="1516.7" rx="5" ry="4.5"/>
<ellipse cx="342.7" cy="1519.9" rx="5" ry="4.5"/>
<ellipse cx="413.2" cy="1519.2" rx="5" ry="4.5"/>
<ellipse cx="357.1" cy="1523" rx="5" ry="4.5"/>
<ellipse cx="327.8" cy="1529.3" rx="5" ry="4.5"/>
<ellipse cx="353.7" cy="1530.2" rx="5" ry="4.5"/>
<ellipse cx="567.9" cy="1525.9" rx="5" ry="4.5"/>
<ellipse cx="221.5" cy="1530.8" rx="5" ry="4.5"/>
<ellipse cx="235.6" cy="1534.4" rx="5" ry="4.5"/>
<ellipse cx="325.1" cy="1539.1" rx="5" ry="4.5"/>
<ellipse cx="401.6" cy="1539.8" rx="5" ry="4.5"/>
<ellipse cx="441.6" cy="1544.9" rx="5" ry="4.5"/>
<ellipse cx="259.7" cy="1547.4" rx="5" ry="4.5"/>
<ellipse cx="529.6" cy="1547.2" rx="5" ry="4.5"/>
<ellipse cx="472.5" cy="1549.6" rx="5" ry="4.5"/>
<ellipse cx="272.5" cy="1553.9" rx="5" ry="4.5"/>
<ellipse cx="311.6" cy="1553.4" rx="5" ry="4.5"/>
<ellipse cx="394.9" cy="1555" rx="5" ry="4.5"/>
<ellipse cx="204.7" cy="1559.9" rx="5" ry="4.5"/>
<ellipse cx="311.4" cy="1561.7" rx="5" ry="4.5"/>
<ellipse cx="495.8" cy="1561.3" rx="5" ry="4.5"/>
<ellipse cx="245.6" cy="1565.1" rx="5" ry="4.5"/>
<ellipse cx="261.1" cy="1570.9" rx="5" ry="4.5"/>
<ellipse cx="212.3" cy="1572.9" rx="5" ry="4.5"/>
<ellipse cx="235.6" cy="1573.6" rx="5" ry="4.5"/>
<ellipse cx="243.8" cy="1572.2" rx="5" ry="4.5"/>
<ellipse cx="247.2" cy="1572.9" rx="5" ry="4.5"/>
<ellipse cx="371.4" cy="1575.1" rx="5" ry="4.5"/>
<ellipse cx="437.4" cy="1574" rx="5" ry="4.5"/>
<ellipse cx="276.1" cy="1579.4" rx="5" ry="4.5"/>
<ellipse cx="303.1" cy="1578.9" rx="5" ry="4.5"/>
<ellipse cx="219.5" cy="1580.3" rx="5" ry="4.5"/>
<ellipse cx="236.7" cy="1580.7" rx="5" ry="4.5"/>
<ellipse cx="415" cy="1581.4" rx="5" ry="4.5"/>
<ellipse cx="427.3" cy="1582.1" rx="5" ry="4.5"/>
<ellipse cx="449.5" cy="1582.7" rx="5" ry="4.5"/>
<ellipse cx="190.4" cy="1583" rx="5" ry="4.5"/>
<ellipse cx="209.6" cy="1583" rx="5" ry="4.5"/>
<ellipse cx="201.6" cy="1585" rx="5" ry="4.5"/>
<ellipse cx="224.8" cy="1583.9" rx="5" ry="4.5"/>
<ellipse cx="233.8" cy="1585" rx="5" ry="4.5"/>
<ellipse cx="243.8" cy="1586.1" rx="5" ry="4.5"/>
<ellipse cx="249.4" cy="1586.3" rx="5" ry="4.5"/>
<ellipse cx="256.2" cy="1585.6" rx="5" ry="4.5"/>
<ellipse cx="341.6" cy="1585.6" rx="5" ry="4.5"/>
<ellipse cx="451.3" cy="1586.8" rx="5" ry="4.5"/>
<ellipse cx="294.2" cy="1587" rx="5" ry="4.5"/>
<ellipse cx="302.7" cy="1587.9" rx="5" ry="4.5"/>
<ellipse cx="400.9" cy="1587.4" rx="5" ry="4.5"/>
<ellipse cx="423.5" cy="1588.8" rx="5" ry="4.5"/>
<ellipse cx="515" cy="1589.2" rx="5" ry="4.5"/>
<ellipse cx="220.8" cy="1590.6" rx="5" ry="4.5"/>
<ellipse cx="238.2" cy="1589.2" rx="5" ry="4.5"/>
<ellipse cx="251.7" cy="1590.1" rx="5" ry="4.5"/>
<ellipse cx="324.8" cy="1590.6" rx="5" ry="4.5"/>
<ellipse cx="295.3" cy="1591.7" rx="5" ry="4.5"/>
<ellipse cx="377" cy="1592.4" rx="5" ry="4.5"/>
<ellipse cx="384.4" cy="1591" rx="5" ry="4.5"/>
<ellipse cx="564.9" cy="1591.5" rx="5" ry="4.5"/>
<ellipse cx="773.5" cy="1373.1" rx="5" ry="4.5"/>
<ellipse cx="1144" cy="1479.4" rx="5" ry="4.5"/>
<ellipse cx="1122.5" cy="1529.5" rx="5" ry="4.5"/>
<ellipse cx="1166.2" cy="1541.6" rx="5" ry="4.5"/>
<ellipse cx="903" cy="1544.2" rx="5" ry="4.5"/>
<ellipse cx="726.2" cy="1577.1" rx="5" ry="4.5"/>
<ellipse cx="715.3" cy="1581.2" rx="5" ry="4.5"/>
<ellipse cx="807.7" cy="1585.9" rx="5" ry="4.5"/>
<ellipse cx="914.9" cy="1586.8" rx="5" ry="4.5"/>
</g>
<line x1="192.4" y1="1544.2" x2="1210.5" y2="1443" stroke="#0a0a0a" stroke-width="3.2" stroke-linecap="butt"/>
<path d="M184.6 930 H1212.4 V1593.5 H184.6 Z" fill="none" stroke="#0a0a0a" stroke-width="2.4" stroke-linejoin="miter"/>
<line x1="173.8" y1="1593.5" x2="184.6" y2="1593.5" stroke="#0a0a0a" stroke-width="2.35" stroke-linecap="round"/>
<text transform="translate(126.99 1602.22) scale(1.05 1)" font-size="27.6" stroke="#0a0a0a" stroke-width="0.6" stroke-linejoin="round">0</text>
<line x1="173.8" y1="1533.18" x2="184.6" y2="1533.18" stroke="#0a0a0a" stroke-width="2.35" stroke-linecap="round"/>
<text transform="translate(143.65 1533.6) scale(1.1 1)" font-size="16.2" stroke="#0a0a0a" stroke-width="0.42" stroke-linejoin="round">-6</text>
<text transform="translate(65.6 1541.9) scale(1.05 1)" font-size="27.6" stroke="#0a0a0a" stroke-width="0.6" stroke-linejoin="round">10x10</text>
<line x1="173.8" y1="1472.86" x2="184.6" y2="1472.86" stroke="#0a0a0a" stroke-width="2.35" stroke-linecap="round"/>
<text transform="translate(143.65 1473.29) scale(1.1 1)" font-size="16.2" stroke="#0a0a0a" stroke-width="0.42" stroke-linejoin="round">-6</text>
<text transform="translate(65.6 1481.59) scale(1.05 1)" font-size="27.6" stroke="#0a0a0a" stroke-width="0.6" stroke-linejoin="round">20x10</text>
<line x1="173.8" y1="1412.55" x2="184.6" y2="1412.55" stroke="#0a0a0a" stroke-width="2.35" stroke-linecap="round"/>
<text transform="translate(143.65 1412.97) scale(1.1 1)" font-size="16.2" stroke="#0a0a0a" stroke-width="0.42" stroke-linejoin="round">-6</text>
<text transform="translate(65.6 1421.27) scale(1.05 1)" font-size="27.6" stroke="#0a0a0a" stroke-width="0.6" stroke-linejoin="round">30x10</text>
<line x1="173.8" y1="1352.23" x2="184.6" y2="1352.23" stroke="#0a0a0a" stroke-width="2.35" stroke-linecap="round"/>
<text transform="translate(143.65 1352.65) scale(1.1 1)" font-size="16.2" stroke="#0a0a0a" stroke-width="0.42" stroke-linejoin="round">-6</text>
<text transform="translate(65.6 1360.95) scale(1.05 1)" font-size="27.6" stroke="#0a0a0a" stroke-width="0.6" stroke-linejoin="round">40x10</text>
<line x1="173.8" y1="1291.91" x2="184.6" y2="1291.91" stroke="#0a0a0a" stroke-width="2.35" stroke-linecap="round"/>
<text transform="translate(143.65 1292.33) scale(1.1 1)" font-size="16.2" stroke="#0a0a0a" stroke-width="0.42" stroke-linejoin="round">-6</text>
<text transform="translate(65.6 1300.63) scale(1.05 1)" font-size="27.6" stroke="#0a0a0a" stroke-width="0.6" stroke-linejoin="round">50x10</text>
<line x1="173.8" y1="1231.59" x2="184.6" y2="1231.59" stroke="#0a0a0a" stroke-width="2.35" stroke-linecap="round"/>
<text transform="translate(143.65 1232.01) scale(1.1 1)" font-size="16.2" stroke="#0a0a0a" stroke-width="0.42" stroke-linejoin="round">-6</text>
<text transform="translate(65.6 1240.31) scale(1.05 1)" font-size="27.6" stroke="#0a0a0a" stroke-width="0.6" stroke-linejoin="round">60x10</text>
<line x1="173.8" y1="1171.27" x2="184.6" y2="1171.27" stroke="#0a0a0a" stroke-width="2.35" stroke-linecap="round"/>
<text transform="translate(143.65 1171.69) scale(1.1 1)" font-size="16.2" stroke="#0a0a0a" stroke-width="0.42" stroke-linejoin="round">-6</text>
<text transform="translate(65.6 1179.99) scale(1.05 1)" font-size="27.6" stroke="#0a0a0a" stroke-width="0.6" stroke-linejoin="round">70x10</text>
<line x1="173.8" y1="1110.95" x2="184.6" y2="1110.95" stroke="#0a0a0a" stroke-width="2.35" stroke-linecap="round"/>
<text transform="translate(143.65 1111.38) scale(1.1 1)" font-size="16.2" stroke="#0a0a0a" stroke-width="0.42" stroke-linejoin="round">-6</text>
<text transform="translate(65.6 1119.68) scale(1.05 1)" font-size="27.6" stroke="#0a0a0a" stroke-width="0.6" stroke-linejoin="round">80x10</text>
<line x1="173.8" y1="1050.64" x2="184.6" y2="1050.64" stroke="#0a0a0a" stroke-width="2.35" stroke-linecap="round"/>
<text transform="translate(143.65 1051.06) scale(1.1 1)" font-size="16.2" stroke="#0a0a0a" stroke-width="0.42" stroke-linejoin="round">-6</text>
<text transform="translate(65.6 1059.36) scale(1.05 1)" font-size="27.6" stroke="#0a0a0a" stroke-width="0.6" stroke-linejoin="round">90x10</text>
<line x1="173.8" y1="990.32" x2="184.6" y2="990.32" stroke="#0a0a0a" stroke-width="2.35" stroke-linecap="round"/>
<text transform="translate(143.65 990.74) scale(1.1 1)" font-size="16.2" stroke="#0a0a0a" stroke-width="0.42" stroke-linejoin="round">-6</text>
<text transform="translate(49.57 999.04) scale(1.05 1)" font-size="27.6" stroke="#0a0a0a" stroke-width="0.6" stroke-linejoin="round">100x10</text>
<line x1="173.8" y1="930" x2="184.6" y2="930" stroke="#0a0a0a" stroke-width="2.35" stroke-linecap="round"/>
<text transform="translate(143.65 930.42) scale(1.1 1)" font-size="16.2" stroke="#0a0a0a" stroke-width="0.42" stroke-linejoin="round">-6</text>
<text transform="translate(51.74 938.72) scale(1.05 1)" font-size="27.6" stroke="#0a0a0a" stroke-width="0.6" stroke-linejoin="round">110x10</text>
<line x1="184.6" y1="1593.5" x2="184.6" y2="1603.5" stroke="#0a0a0a" stroke-width="2.35" stroke-linecap="round"/>
<text transform="translate(171.72 1639.6) scale(1 1)" font-size="27.6" stroke="#0a0a0a" stroke-width="0.6" stroke-linejoin="round">-1</text>
<line x1="390.1" y1="1593.5" x2="390.1" y2="1603.5" stroke="#0a0a0a" stroke-width="2.35" stroke-linecap="round"/>
<text transform="translate(382.37 1639.6) scale(1 1)" font-size="27.6" stroke="#0a0a0a" stroke-width="0.6" stroke-linejoin="round">0</text>
<line x1="595.6" y1="1593.5" x2="595.6" y2="1603.5" stroke="#0a0a0a" stroke-width="2.35" stroke-linecap="round"/>
<text transform="translate(587.53 1639.6) scale(1 1)" font-size="27.6" stroke="#0a0a0a" stroke-width="0.6" stroke-linejoin="round">1</text>
<line x1="801.1" y1="1593.5" x2="801.1" y2="1603.5" stroke="#0a0a0a" stroke-width="2.35" stroke-linecap="round"/>
<text transform="translate(793.44 1639.6) scale(1 1)" font-size="27.6" stroke="#0a0a0a" stroke-width="0.6" stroke-linejoin="round">2</text>
<line x1="1006.6" y1="1593.5" x2="1006.6" y2="1603.5" stroke="#0a0a0a" stroke-width="2.35" stroke-linecap="round"/>
<text transform="translate(998.94 1639.6) scale(1 1)" font-size="27.6" stroke="#0a0a0a" stroke-width="0.6" stroke-linejoin="round">3</text>
<line x1="1212.1" y1="1593.5" x2="1212.1" y2="1603.5" stroke="#0a0a0a" stroke-width="2.35" stroke-linecap="round"/>
<text transform="translate(1204.58 1639.6) scale(1 1)" font-size="27.6" stroke="#0a0a0a" stroke-width="0.6" stroke-linejoin="round">4</text>
<text transform="translate(479.83 1677) scale(0.94 1)" font-size="35.4" stroke="#0a0a0a" stroke-width="0.45" stroke-linejoin="round">Water depth (scaled values)</text>
<text transform="translate(31.6 1634.8) rotate(-90) scale(1 1.02) translate(-2.67 0)" font-size="33.4" stroke="#0a0a0a" stroke-width="0.35" stroke-linejoin="round">Proportional occurence of blue crab (log-trasformed)</text>
<text transform="translate(81.5 845.4) scale(0.94 1)" font-size="34.5">c)</text>
</g>
<g>
<path d="M1537.3 1508.75 C1541.82 1507.29 1555.39 1503 1564.44 1499.96 C1573.49 1496.92 1582.53 1493.79 1591.58 1490.53 C1600.63 1487.27 1609.67 1483.9 1618.72 1480.41 C1627.77 1476.92 1636.81 1473.31 1645.86 1469.58 C1654.91 1465.86 1663.95 1462.01 1673 1458.08 C1682.05 1454.14 1691.09 1450.09 1700.14 1445.96 C1709.19 1441.84 1718.23 1437.61 1727.28 1433.33 C1736.33 1429.04 1745.37 1424.68 1754.42 1420.27 C1763.47 1415.85 1772.51 1411.38 1781.56 1406.86 C1790.61 1402.35 1799.65 1397.78 1808.7 1393.19 C1817.75 1388.59 1826.79 1383.95 1835.84 1379.29 C1844.89 1374.63 1853.93 1369.94 1862.98 1365.23 C1872.03 1360.52 1881.07 1355.78 1890.12 1351.03 C1899.17 1346.27 1908.21 1341.5 1917.26 1336.71 C1926.31 1331.93 1935.35 1327.12 1944.4 1322.31 C1953.45 1317.5 1962.49 1312.67 1971.54 1307.83 C1980.59 1303 1989.63 1298.15 1998.68 1293.29 C2007.73 1288.44 2016.77 1283.57 2025.82 1278.7 C2034.87 1273.83 2043.91 1268.95 2052.96 1264.07 C2062.01 1259.19 2071.05 1254.3 2080.1 1249.4 C2089.15 1244.51 2098.19 1239.6 2107.24 1234.7 C2116.29 1229.79 2125.33 1224.88 2134.38 1219.97 C2143.43 1215.06 2152.47 1210.14 2161.52 1205.22 C2170.57 1200.3 2179.61 1195.37 2188.66 1190.45 C2197.71 1185.52 2206.75 1180.59 2215.8 1175.66 C2224.85 1170.72 2233.89 1165.79 2242.94 1160.85 C2251.99 1155.91 2261.03 1150.97 2270.08 1146.03 C2279.13 1141.09 2288.17 1136.15 2297.22 1131.2 C2306.27 1126.25 2315.31 1121.31 2324.36 1116.36 C2333.41 1111.41 2342.45 1106.46 2351.5 1101.5 C2360.55 1096.55 2369.59 1091.6 2378.64 1086.64 C2387.69 1081.69 2396.73 1076.73 2405.78 1071.77 C2414.83 1066.82 2423.87 1061.86 2432.92 1056.9 C2441.97 1051.94 2451.01 1046.98 2460.06 1042.01 C2469.11 1037.05 2482.68 1029.61 2487.2 1027.12 L2487.2 1329.53 C2482.68 1330.49 2469.11 1333.36 2460.06 1335.28 C2451.01 1337.2 2441.97 1339.12 2432.92 1341.04 C2423.87 1342.96 2414.83 1344.88 2405.78 1346.8 C2396.73 1348.73 2387.69 1350.65 2378.64 1352.58 C2369.59 1354.5 2360.55 1356.43 2351.5 1358.36 C2342.45 1360.29 2333.41 1362.22 2324.36 1364.16 C2315.31 1366.09 2306.27 1368.03 2297.22 1369.96 C2288.17 1371.9 2279.13 1373.84 2270.08 1375.78 C2261.03 1377.73 2251.99 1379.67 2242.94 1381.62 C2233.89 1383.57 2224.85 1385.52 2215.8 1387.47 C2206.75 1389.42 2197.71 1391.38 2188.66 1393.34 C2179.61 1395.3 2170.57 1397.27 2161.52 1399.23 C2152.47 1401.2 2143.43 1403.17 2134.38 1405.15 C2125.33 1407.13 2116.29 1409.11 2107.24 1411.1 C2098.19 1413.09 2089.15 1415.08 2080.1 1417.08 C2071.05 1419.08 2062.01 1421.08 2052.96 1423.1 C2043.91 1425.11 2034.87 1427.13 2025.82 1429.16 C2016.77 1431.19 2007.73 1433.23 1998.68 1435.28 C1989.63 1437.33 1980.59 1439.39 1971.54 1441.46 C1962.49 1443.54 1953.45 1445.62 1944.4 1447.72 C1935.35 1449.83 1926.31 1451.94 1917.26 1454.08 C1908.21 1456.22 1899.17 1458.37 1890.12 1460.55 C1881.07 1462.73 1872.03 1464.93 1862.98 1467.16 C1853.93 1469.39 1844.89 1471.65 1835.84 1473.95 C1826.79 1476.25 1817.75 1478.58 1808.7 1480.96 C1799.65 1483.34 1790.61 1485.76 1781.56 1488.24 C1772.51 1490.73 1763.47 1493.26 1754.42 1495.87 C1745.37 1498.48 1736.33 1501.15 1727.28 1503.92 C1718.23 1506.69 1709.19 1509.53 1700.14 1512.49 C1691.09 1515.44 1682.05 1518.48 1673 1521.65 C1663.95 1524.81 1654.91 1528.08 1645.86 1531.47 C1636.81 1534.86 1627.77 1538.37 1618.72 1542 C1609.67 1545.62 1600.63 1549.37 1591.58 1553.21 C1582.53 1557.06 1573.49 1561.02 1564.44 1565.07 C1555.39 1569.12 1541.82 1575.42 1537.3 1577.49 Z" fill="#e3e2e3"/>
<g fill="rgba(90,88,97,0.45)">
<ellipse cx="2478.8" cy="950.7" rx="5" ry="4.5"/>
<ellipse cx="1550.7" cy="1224.2" rx="5" ry="4.5"/>
<ellipse cx="1654.5" cy="1229.6" rx="5" ry="4.5"/>
<ellipse cx="2362.1" cy="1254.3" rx="5" ry="4.5"/>
<ellipse cx="2071.4" cy="1579.3" rx="5" ry="4.5"/>
<ellipse cx="1810.5" cy="1318.5" rx="5" ry="4.5"/>
<ellipse cx="1576.6" cy="1361.9" rx="5" ry="4.5"/>
<ellipse cx="1544.7" cy="1367" rx="5" ry="4.5"/>
<ellipse cx="1840.7" cy="1368.4" rx="5" ry="4.5"/>
<ellipse cx="1539.1" cy="1378.9" rx="5" ry="4.5"/>
<ellipse cx="1547.8" cy="1397.9" rx="5" ry="4.5"/>
<ellipse cx="1544.7" cy="1410" rx="5" ry="4.5"/>
<ellipse cx="1692.3" cy="1412" rx="5" ry="4.5"/>
<ellipse cx="1545.8" cy="1420.5" rx="5" ry="4.5"/>
<ellipse cx="1668.6" cy="1430.1" rx="5" ry="4.5"/>
<ellipse cx="1542.9" cy="1442" rx="5" ry="4.5"/>
<ellipse cx="1548" cy="1441.3" rx="5" ry="4.5"/>
<ellipse cx="1537" cy="1452.7" rx="5" ry="4.5"/>
<ellipse cx="1569.9" cy="1456.8" rx="5" ry="4.5"/>
<ellipse cx="1793.5" cy="1459.9" rx="5" ry="4.5"/>
<ellipse cx="1708.4" cy="1466.4" rx="5" ry="4.5"/>
<ellipse cx="1535.3" cy="1473.8" rx="5" ry="4.5"/>
<ellipse cx="1669.3" cy="1474.2" rx="5" ry="4.5"/>
<ellipse cx="1561.9" cy="1474.4" rx="5" ry="4.5"/>
<ellipse cx="1566.1" cy="1474.9" rx="5" ry="4.5"/>
<ellipse cx="1553.6" cy="1477.8" rx="5" ry="4.5"/>
<ellipse cx="1535.7" cy="1487.6" rx="5" ry="4.5"/>
<ellipse cx="1536.3" cy="1487.4" rx="5" ry="4.5"/>
<ellipse cx="1732.6" cy="1494.6" rx="5" ry="4.5"/>
<ellipse cx="1543.8" cy="1496.1" rx="5" ry="4.5"/>
<ellipse cx="1546.9" cy="1499" rx="5" ry="4.5"/>
<ellipse cx="1535" cy="1501.7" rx="5" ry="4.5"/>
<ellipse cx="1556.3" cy="1504" rx="5" ry="4.5"/>
<ellipse cx="1577.1" cy="1510.9" rx="5" ry="4.5"/>
<ellipse cx="1552.9" cy="1514.3" rx="5" ry="4.5"/>
<ellipse cx="1670.4" cy="1514.3" rx="5" ry="4.5"/>
<ellipse cx="1535.7" cy="1519.2" rx="5" ry="4.5"/>
<ellipse cx="1561.4" cy="1520.5" rx="5" ry="4.5"/>
<ellipse cx="1532.6" cy="1524.1" rx="5" ry="4.5"/>
<ellipse cx="1594.3" cy="1525.7" rx="5" ry="4.5"/>
<ellipse cx="1608.6" cy="1523.9" rx="5" ry="4.5"/>
<ellipse cx="1621.9" cy="1523.9" rx="5" ry="4.5"/>
<ellipse cx="1546.7" cy="1529" rx="5" ry="4.5"/>
<ellipse cx="1542.2" cy="1533.7" rx="5" ry="4.5"/>
<ellipse cx="1560.3" cy="1534.9" rx="5" ry="4.5"/>
<ellipse cx="1536.2" cy="1539.6" rx="5" ry="4.5"/>
<ellipse cx="1549.1" cy="1539.6" rx="5" ry="4.5"/>
<ellipse cx="1540.6" cy="1536.4" rx="5" ry="4.5"/>
<ellipse cx="1539.5" cy="1546.5" rx="5" ry="4.5"/>
<ellipse cx="1540.2" cy="1548.7" rx="5" ry="4.5"/>
<ellipse cx="1542.9" cy="1550.3" rx="5" ry="4.5"/>
<ellipse cx="1538.6" cy="1555.9" rx="5" ry="4.5"/>
<ellipse cx="1550.9" cy="1556.6" rx="5" ry="4.5"/>
<ellipse cx="1794.6" cy="1554.5" rx="5" ry="4.5"/>
<ellipse cx="1586.7" cy="1559.9" rx="5" ry="4.5"/>
<ellipse cx="1910.1" cy="1565.7" rx="5" ry="4.5"/>
<ellipse cx="1545.5" cy="1566.6" rx="5" ry="4.5"/>
<ellipse cx="1553.6" cy="1567.1" rx="5" ry="4.5"/>
<ellipse cx="1583.8" cy="1567.5" rx="5" ry="4.5"/>
<ellipse cx="1564.1" cy="1568.4" rx="5" ry="4.5"/>
<ellipse cx="1619.8" cy="1568.9" rx="5" ry="4.5"/>
<ellipse cx="1762.4" cy="1570" rx="5" ry="4.5"/>
<ellipse cx="1762.4" cy="1573.8" rx="5" ry="4.5"/>
<ellipse cx="1545.1" cy="1570" rx="5" ry="4.5"/>
<ellipse cx="1551.8" cy="1572.2" rx="5" ry="4.5"/>
<ellipse cx="1602.4" cy="1573.6" rx="5" ry="4.5"/>
<ellipse cx="1546.2" cy="1574.5" rx="5" ry="4.5"/>
<ellipse cx="1635.5" cy="1575.6" rx="5" ry="4.5"/>
<ellipse cx="1572.4" cy="1576.2" rx="5" ry="4.5"/>
<ellipse cx="1575.3" cy="1575.8" rx="5" ry="4.5"/>
<ellipse cx="1645.8" cy="1577.8" rx="5" ry="4.5"/>
<ellipse cx="1530.3" cy="1578" rx="5" ry="4.5"/>
<ellipse cx="1533.5" cy="1577.1" rx="5" ry="4.5"/>
<ellipse cx="1606" cy="1578.5" rx="5" ry="4.5"/>
<ellipse cx="1556.1" cy="1578.9" rx="5" ry="4.5"/>
<ellipse cx="1538.4" cy="1580.1" rx="5" ry="4.5"/>
<ellipse cx="1541.7" cy="1580.7" rx="5" ry="4.5"/>
<ellipse cx="1545.1" cy="1580.1" rx="5" ry="4.5"/>
<ellipse cx="1548.5" cy="1582.3" rx="5" ry="4.5"/>
<ellipse cx="1584" cy="1582.3" rx="5" ry="4.5"/>
<ellipse cx="1614.2" cy="1581.6" rx="5" ry="4.5"/>
<ellipse cx="1626.6" cy="1581.6" rx="5" ry="4.5"/>
<ellipse cx="1662.4" cy="1581.8" rx="5" ry="4.5"/>
<ellipse cx="1597.2" cy="1583.4" rx="5" ry="4.5"/>
<ellipse cx="1599.9" cy="1582.7" rx="5" ry="4.5"/>
<ellipse cx="1737.3" cy="1583.9" rx="5" ry="4.5"/>
<ellipse cx="1604.4" cy="1585" rx="5" ry="4.5"/>
<ellipse cx="1639.1" cy="1585" rx="5" ry="4.5"/>
<ellipse cx="1535" cy="1585.6" rx="5" ry="4.5"/>
<ellipse cx="1540.6" cy="1584.5" rx="5" ry="4.5"/>
<ellipse cx="1544" cy="1585.6" rx="5" ry="4.5"/>
<ellipse cx="1549.6" cy="1585.6" rx="5" ry="4.5"/>
<ellipse cx="1556.3" cy="1585.6" rx="5" ry="4.5"/>
<ellipse cx="1541.7" cy="1587.9" rx="5" ry="4.5"/>
<ellipse cx="1546.2" cy="1588.3" rx="5" ry="4.5"/>
</g>
<line x1="1537.3" y1="1541.3" x2="2488" y2="1178.1" stroke="#0a0a0a" stroke-width="2.8" stroke-linecap="butt"/>
<path d="M1464.1 922 H2490 V1588.7 H1464.1 Z" fill="none" stroke="#0a0a0a" stroke-width="2.4" stroke-linejoin="miter"/>
<line x1="1453.6" y1="1588.7" x2="1464.1" y2="1588.7" stroke="#0a0a0a" stroke-width="2.35" stroke-linecap="round"/>
<text transform="translate(1407.09 1597.32) scale(1.05 1)" font-size="27.6" stroke="#0a0a0a" stroke-width="0.6" stroke-linejoin="round">0</text>
<line x1="1453.6" y1="1528.09" x2="1464.1" y2="1528.09" stroke="#0a0a0a" stroke-width="2.35" stroke-linecap="round"/>
<text transform="translate(1423.55 1528.41) scale(1.1 1)" font-size="16.2" stroke="#0a0a0a" stroke-width="0.42" stroke-linejoin="round">-6</text>
<text transform="translate(1345.5 1536.71) scale(1.05 1)" font-size="27.6" stroke="#0a0a0a" stroke-width="0.6" stroke-linejoin="round">10x10</text>
<line x1="1453.6" y1="1467.48" x2="1464.1" y2="1467.48" stroke="#0a0a0a" stroke-width="2.35" stroke-linecap="round"/>
<text transform="translate(1423.55 1467.8) scale(1.1 1)" font-size="16.2" stroke="#0a0a0a" stroke-width="0.42" stroke-linejoin="round">-6</text>
<text transform="translate(1345.5 1476.1) scale(1.05 1)" font-size="27.6" stroke="#0a0a0a" stroke-width="0.6" stroke-linejoin="round">20x10</text>
<line x1="1453.6" y1="1406.87" x2="1464.1" y2="1406.87" stroke="#0a0a0a" stroke-width="2.35" stroke-linecap="round"/>
<text transform="translate(1423.55 1407.19) scale(1.1 1)" font-size="16.2" stroke="#0a0a0a" stroke-width="0.42" stroke-linejoin="round">-6</text>
<text transform="translate(1345.5 1415.49) scale(1.05 1)" font-size="27.6" stroke="#0a0a0a" stroke-width="0.6" stroke-linejoin="round">30x10</text>
<line x1="1453.6" y1="1346.26" x2="1464.1" y2="1346.26" stroke="#0a0a0a" stroke-width="2.35" stroke-linecap="round"/>
<text transform="translate(1423.55 1346.59) scale(1.1 1)" font-size="16.2" stroke="#0a0a0a" stroke-width="0.42" stroke-linejoin="round">-6</text>
<text transform="translate(1345.5 1354.89) scale(1.05 1)" font-size="27.6" stroke="#0a0a0a" stroke-width="0.6" stroke-linejoin="round">40x10</text>
<line x1="1453.6" y1="1285.65" x2="1464.1" y2="1285.65" stroke="#0a0a0a" stroke-width="2.35" stroke-linecap="round"/>
<text transform="translate(1423.55 1285.98) scale(1.1 1)" font-size="16.2" stroke="#0a0a0a" stroke-width="0.42" stroke-linejoin="round">-6</text>
<text transform="translate(1345.5 1294.28) scale(1.05 1)" font-size="27.6" stroke="#0a0a0a" stroke-width="0.6" stroke-linejoin="round">50x10</text>
<line x1="1453.6" y1="1225.05" x2="1464.1" y2="1225.05" stroke="#0a0a0a" stroke-width="2.35" stroke-linecap="round"/>
<text transform="translate(1423.55 1225.37) scale(1.1 1)" font-size="16.2" stroke="#0a0a0a" stroke-width="0.42" stroke-linejoin="round">-6</text>
<text transform="translate(1345.5 1233.67) scale(1.05 1)" font-size="27.6" stroke="#0a0a0a" stroke-width="0.6" stroke-linejoin="round">60x10</text>
<line x1="1453.6" y1="1164.44" x2="1464.1" y2="1164.44" stroke="#0a0a0a" stroke-width="2.35" stroke-linecap="round"/>
<text transform="translate(1423.55 1164.76) scale(1.1 1)" font-size="16.2" stroke="#0a0a0a" stroke-width="0.42" stroke-linejoin="round">-6</text>
<text transform="translate(1345.5 1173.06) scale(1.05 1)" font-size="27.6" stroke="#0a0a0a" stroke-width="0.6" stroke-linejoin="round">70x10</text>
<line x1="1453.6" y1="1103.83" x2="1464.1" y2="1103.83" stroke="#0a0a0a" stroke-width="2.35" stroke-linecap="round"/>
<text transform="translate(1423.55 1104.15) scale(1.1 1)" font-size="16.2" stroke="#0a0a0a" stroke-width="0.42" stroke-linejoin="round">-6</text>
<text transform="translate(1345.5 1112.45) scale(1.05 1)" font-size="27.6" stroke="#0a0a0a" stroke-width="0.6" stroke-linejoin="round">80x10</text>
<line x1="1453.6" y1="1043.22" x2="1464.1" y2="1043.22" stroke="#0a0a0a" stroke-width="2.35" stroke-linecap="round"/>
<text transform="translate(1423.55 1043.54) scale(1.1 1)" font-size="16.2" stroke="#0a0a0a" stroke-width="0.42" stroke-linejoin="round">-6</text>
<text transform="translate(1345.5 1051.84) scale(1.05 1)" font-size="27.6" stroke="#0a0a0a" stroke-width="0.6" stroke-linejoin="round">90x10</text>
<line x1="1453.6" y1="982.61" x2="1464.1" y2="982.61" stroke="#0a0a0a" stroke-width="2.35" stroke-linecap="round"/>
<text transform="translate(1423.55 982.93) scale(1.1 1)" font-size="16.2" stroke="#0a0a0a" stroke-width="0.42" stroke-linejoin="round">-6</text>
<text transform="translate(1329.47 991.23) scale(1.05 1)" font-size="27.6" stroke="#0a0a0a" stroke-width="0.6" stroke-linejoin="round">100x10</text>
<line x1="1453.6" y1="922" x2="1464.1" y2="922" stroke="#0a0a0a" stroke-width="2.35" stroke-linecap="round"/>
<text transform="translate(1423.55 922.32) scale(1.1 1)" font-size="16.2" stroke="#0a0a0a" stroke-width="0.42" stroke-linejoin="round">-6</text>
<text transform="translate(1331.64 930.62) scale(1.05 1)" font-size="27.6" stroke="#0a0a0a" stroke-width="0.6" stroke-linejoin="round">110x10</text>
<line x1="1464.1" y1="1588.7" x2="1464.1" y2="1598.2" stroke="#0a0a0a" stroke-width="2.35" stroke-linecap="round"/>
<text transform="translate(1451.52 1634.2) scale(1 1)" font-size="27.6" stroke="#0a0a0a" stroke-width="0.6" stroke-linejoin="round">-1</text>
<line x1="1610.65" y1="1588.7" x2="1610.65" y2="1598.2" stroke="#0a0a0a" stroke-width="2.35" stroke-linecap="round"/>
<text transform="translate(1602.92 1634.2) scale(1 1)" font-size="27.6" stroke="#0a0a0a" stroke-width="0.6" stroke-linejoin="round">0</text>
<line x1="1757.2" y1="1588.7" x2="1757.2" y2="1598.2" stroke="#0a0a0a" stroke-width="2.35" stroke-linecap="round"/>
<text transform="translate(1749.13 1634.2) scale(1 1)" font-size="27.6" stroke="#0a0a0a" stroke-width="0.6" stroke-linejoin="round">1</text>
<line x1="1903.75" y1="1588.7" x2="1903.75" y2="1598.2" stroke="#0a0a0a" stroke-width="2.35" stroke-linecap="round"/>
<text transform="translate(1896.09 1634.2) scale(1 1)" font-size="27.6" stroke="#0a0a0a" stroke-width="0.6" stroke-linejoin="round">2</text>
<line x1="2050.3" y1="1588.7" x2="2050.3" y2="1598.2" stroke="#0a0a0a" stroke-width="2.35" stroke-linecap="round"/>
<text transform="translate(2042.64 1634.2) scale(1 1)" font-size="27.6" stroke="#0a0a0a" stroke-width="0.6" stroke-linejoin="round">3</text>
<line x1="2196.85" y1="1588.7" x2="2196.85" y2="1598.2" stroke="#0a0a0a" stroke-width="2.35" stroke-linecap="round"/>
<text transform="translate(2189.33 1634.2) scale(1 1)" font-size="27.6" stroke="#0a0a0a" stroke-width="0.6" stroke-linejoin="round">4</text>
<line x1="2343.4" y1="1588.7" x2="2343.4" y2="1598.2" stroke="#0a0a0a" stroke-width="2.35" stroke-linecap="round"/>
<text transform="translate(2335.74 1634.2) scale(1 1)" font-size="27.6" stroke="#0a0a0a" stroke-width="0.6" stroke-linejoin="round">5</text>
<line x1="2489.95" y1="1588.7" x2="2489.95" y2="1598.2" stroke="#0a0a0a" stroke-width="2.35" stroke-linecap="round"/>
<text transform="translate(2482.15 1634.2) scale(1 1)" font-size="27.6" stroke="#0a0a0a" stroke-width="0.6" stroke-linejoin="round">6</text>
<text transform="translate(1842.75 1675) scale(0.97 1)" font-size="35.4" stroke="#0a0a0a" stroke-width="0.45" stroke-linejoin="round">NO3 (scaled values)</text>
<text transform="translate(1311 1634.8) rotate(-90) scale(1 1.02) translate(-2.67 0)" font-size="33.4" stroke="#0a0a0a" stroke-width="0.35" stroke-linejoin="round">Proportional occurence of blue crab (log-trasformed)</text>
<text transform="translate(2325.8 959.1) scale(1 1)" font-size="30.7"><tspan font-style="italic">p</tspan>&lt;0.001</text>
<text transform="translate(1256.36 847.5) scale(1.04 1)" font-size="34.5">d)</text>
</g>
</svg></body></html>
